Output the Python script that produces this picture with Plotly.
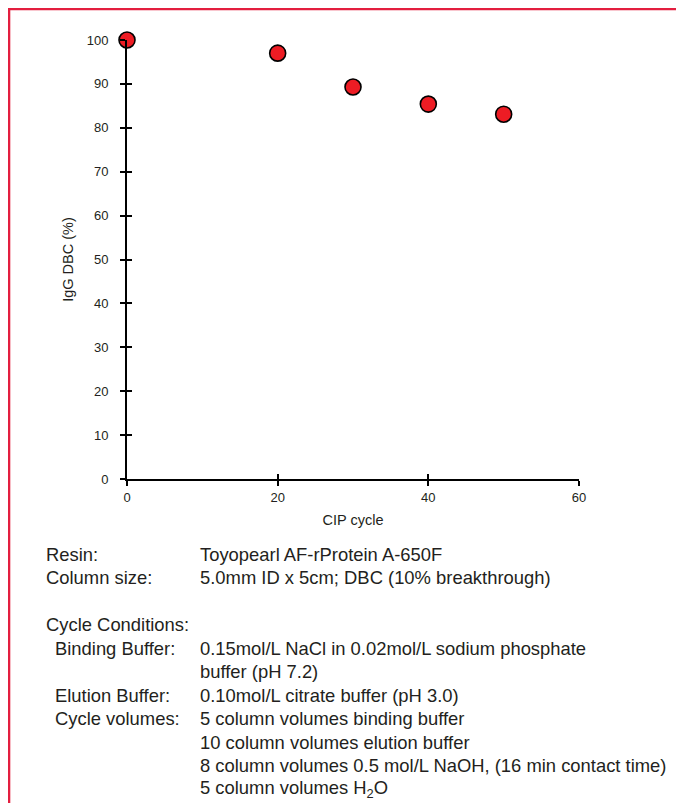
import plotly.graph_objects as go

cip_cycle = [0, 20, 30, 40, 50]
igg_dbc = [100, 97.0, 89.3, 85.4, 83.1]
x_ticks = [0, 20, 40, 60]
y_ticks = [0, 10, 20, 30, 40, 50, 60, 70, 80, 90, 100]

info_labels = ["Resin:", "Column size:", "", "Cycle Conditions:", " Binding Buffer:", "", " Elution Buffer:", " Cycle volumes:", "", "", ""]
info_values = ["Toyopearl AF-rProtein A-650F", "5.0mm ID x 5cm; DBC (10% breakthrough)", "", "",
               "0.15mol/L NaCl in 0.02mol/L sodium phosphate", "buffer (pH 7.2)",
               "0.10mol/L citrate buffer (pH 3.0)", "5 column volumes binding buffer",
               "10 column volumes elution buffer",
               "8 column volumes 0.5 mol/L NaOH, (16 min contact time)",
               "5 column volumes H<sub>2</sub>O"]

FONT = "Liberation Sans, Arial, sans-serif"
TXT = "#231F20"
OFF = 8  # page body margin
W, H = 676, 795
L, R, T, B = 119, 105, 32, 324
pw = W - L - R
ph = H - T - B

def px_x(p):
    return (p - OFF - L) / pw

def px_y(p):
    return (H - B - (p - OFF)) / ph

fig = go.Figure()
fig.add_trace(go.Scatter(
    x=cip_cycle, y=igg_dbc, mode="markers",
    marker=dict(size=16, color="#ED1C24", line=dict(color="black", width=1.6)),
    cliponaxis=False, showlegend=False,
))

tick_common = dict(showgrid=False, zeroline=False, tickcolor="black", tickwidth=2, ticklen=5)

fig.update_layout(
    width=W, height=H, margin=dict(l=L, r=R, t=T, b=B),
    paper_bgcolor="white", plot_bgcolor="white",
    font=dict(family=FONT, size=13, color=TXT),
    xaxis=dict(range=[0, 60], tickvals=x_ticks, ticks="outside", showline=True,
               linecolor="black", linewidth=2,
               title=dict(text="CIP cycle", font=dict(size=14.5), standoff=11), **tick_common),
    yaxis=dict(range=[0, 100], tickvals=y_ticks, ticks="outside", showline=True,
               linecolor="black", linewidth=2, ticklabelstandoff=9,
               title=dict(text="IgG DBC (%)", font=dict(size=14.5), standoff=10), **tick_common),
    xaxis2=dict(range=[0, 60], tickvals=x_ticks, ticks="inside", overlaying="x", anchor="y",
                side="bottom", showticklabels=False, showline=False, **tick_common),
    yaxis2=dict(range=[0, 100], tickvals=y_ticks, ticks="inside", overlaying="y", anchor="x",
                side="left", showticklabels=False, showline=False, **tick_common),
)

fig.add_trace(go.Scatter(x=[0], y=[0], xaxis="x2", yaxis="y2", mode="markers",
                         marker=dict(opacity=0), showlegend=False, hoverinfo="skip"))

# red frame (top and left edges)
border = "#E31E3F"
fig.add_shape(type="line", xref="paper", yref="paper", x0=px_x(5), x1=px_x(700),
              y0=px_y(8), y1=px_y(8), line=dict(color=border, width=4.6))
fig.add_shape(type="line", xref="paper", yref="paper", x0=px_x(8), x1=px_x(8),
              y0=px_y(5), y1=px_y(820), line=dict(color=border, width=4.6))

line_y = [554, 577.5, 601, 624.5, 648, 671.5, 695, 718.5, 742, 765.5, 789]
for lab, val, yy in zip(info_labels, info_values, line_y):
    if lab:
        indent = 53 if lab.startswith(" ") else 44
        fig.add_annotation(text=lab.strip(), xref="paper", yref="paper", x=px_x(indent), y=px_y(yy),
                           xanchor="left", yanchor="middle", showarrow=False,
                           font=dict(size=18.4, family=FONT, color=TXT))
    if val:
        fig.add_annotation(text=val, xref="paper", yref="paper", x=px_x(197.5), y=px_y(yy),
                           xanchor="left", yanchor="middle", showarrow=False,
                           font=dict(size=18.4, family=FONT, color=TXT))

fig.write_html("out.html")
